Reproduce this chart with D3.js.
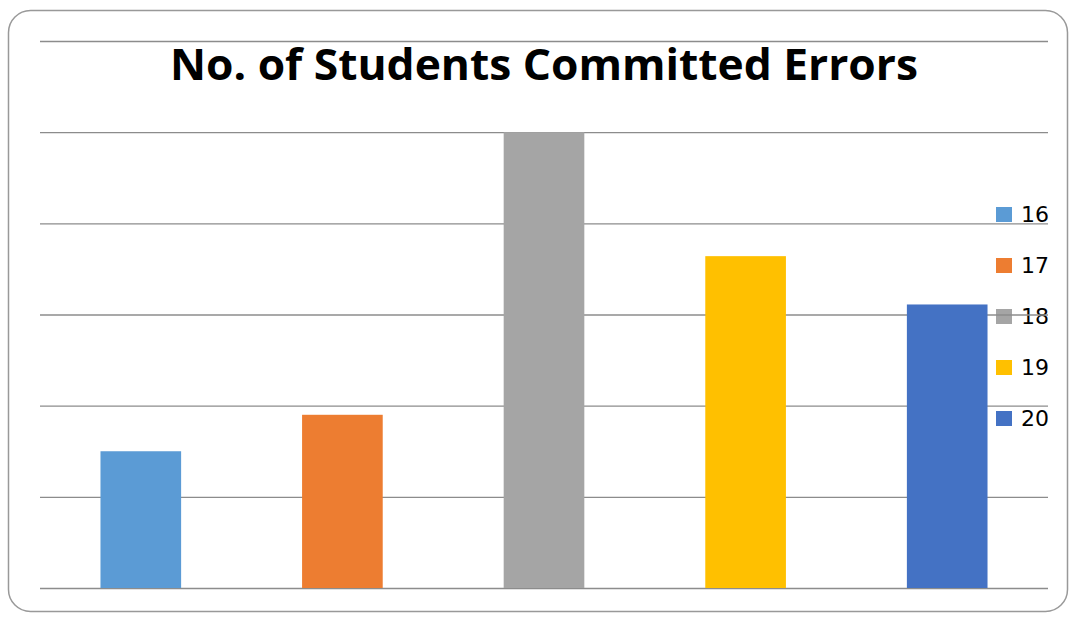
<!DOCTYPE html>
<html><head><meta charset="utf-8">
<script src="https://cdn.jsdelivr.net/npm/d3@7"></script>
<style>body{margin:0;background:#fff}svg{display:block}</style>
</head><body>
<svg id="c" width="1072" height="617"></svg>
<script>
const categories = ["16","17","18","19","20"];
const values = [1.5, 1.9, 5.0, 3.64, 3.11];
const colors = ["#5b9bd5","#ed7d31","#a5a5a5","#ffc000","#4472c4"];
const yTicks = [0,1,2,3,4,5,6];
const title = "No. of Students Committed Errors";

const svg = d3.select("#c");
svg.append("rect").attr("x",8.5).attr("y",10.5).attr("width",1059).attr("height",601)
  .attr("rx",22).attr("fill","#fff").attr("stroke","#999").attr("stroke-width",1.5);

const x = d3.scaleBand().domain(categories).range([40,1048]).paddingInner(0.6).paddingOuter(0.3);
const y = d3.scaleLinear().domain([0,6]).range([588,41]);

const leg = svg.append("g").selectAll("g").data(categories).join("g")
  .attr("transform",(d,i)=>`translate(996,${214+i*51})`);
leg.append("rect").attr("x",0).attr("y",-7).attr("width",16).attr("height",15)
  .attr("fill",(d,i)=>colors[i]);
leg.append("text").attr("x",25).attr("y",8).attr("font-family","'DejaVu Sans', sans-serif")
  .attr("font-size",22).attr("fill","#000").text(d=>d);

const grid = svg.append("g")
  .call(d3.axisLeft(y).tickValues(yTicks).tickSize(-(1048-40)).tickFormat(""))
  .attr("transform","translate(40,0)");
grid.select(".domain").remove();
grid.selectAll(".tick line").attr("stroke","#8c8c8c").attr("stroke-width",1.3);

svg.append("g").selectAll("rect").data(values).join("rect")
  .attr("x",(d,i)=>x(categories[i])).attr("width",x.bandwidth())
  .attr("y",d=>y(d)).attr("height",d=>y(0)-y(d))
  .attr("fill",(d,i)=>colors[i]);

svg.append("text").attr("x",544).attr("y",80).attr("text-anchor","middle")
  .attr("font-family","'Open Sans', sans-serif").attr("font-weight","bold")
  .attr("font-size",43).attr("textLength",748).attr("lengthAdjust","spacingAndGlyphs")
  .attr("fill","#000").text(title);
</script>
</body></html>
